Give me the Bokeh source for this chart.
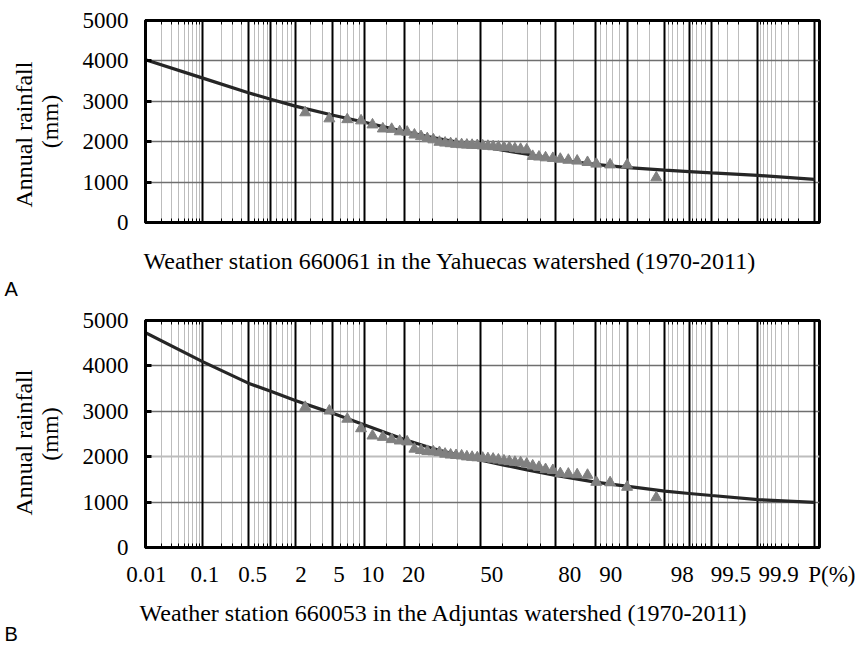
import math
from statistics import NormalDist
from bokeh.plotting import figure
from bokeh.models import Range1d, LinearAxis, FixedTicker, Grid, Title, ColumnDataSource
from bokeh.layouts import column
from bokeh.embed import file_html
from bokeh.resources import INLINE

# ---------------- data ----------------
major_p = [0.01, 0.1, 0.5, 1, 2, 5, 10, 20, 50, 80, 90, 95, 98, 99, 99.5, 99.9, 99.99]
minor_p = [0.02, 0.03, 0.04, 0.05, 0.06, 0.07, 0.08, 0.09, 0.2, 0.3, 0.4, 0.6, 0.7, 0.8, 0.9,
           1.2, 1.4, 1.6, 1.8, 3, 4, 6, 7, 8, 9, 15, 25, 30, 40, 60, 70, 75, 85,
           91, 92, 93, 94, 96, 97, 98.2, 98.4, 98.6, 98.8, 99.1, 99.2, 99.3, 99.4,
           99.6, 99.7, 99.8, 99.91, 99.92, 99.93, 99.94, 99.95, 99.96, 99.97, 99.98]
label_p = [0.01, 0.1, 0.5, 2, 5, 10, 20, 50, 80, 90, 98, 99.5, 99.9]
label_text = ["0.01", "0.1", "0.5", "2", "5", "10", "20", "50", "80", "90", "98", "99.5", "99.9"]
unit_text = "P(%)"
y_ticks = [0, 1000, 2000, 3000, 4000, 5000]

# empirical exceedance probability (%) of the 42 annual totals
obs_p = [2.6, 4.7, 7.0, 9.3, 11.6, 14.0, 16.3, 18.6, 20.9, 23.3, 25.6, 27.9, 30.2, 32.6,
         34.9, 37.2, 39.5, 41.9, 44.2, 46.5, 48.8, 51.2, 53.5, 55.8, 58.1, 60.5, 62.8, 65.1,
         67.4, 69.8, 72.1, 74.4, 76.7, 79.1, 81.4, 83.7, 86.0, 88.4, 90.2, 92.6, 94.9, 97.5]
obs_a = [2720, 2570, 2550, 2520, 2420, 2320, 2310, 2250, 2240, 2170, 2130, 2080, 2050, 1990,
         1970, 1955, 1940, 1930, 1920, 1915, 1910, 1900, 1890, 1880, 1870, 1860, 1855, 1830,
         1815, 1800, 1640, 1625, 1605, 1590, 1570, 1545, 1525, 1490, 1450, 1430, 1425, 1110]
obs_b = [3090, 3010, 2830, 2620, 2460, 2430, 2380, 2350, 2330, 2170, 2140, 2120, 2110, 2095,
         2060, 2040, 2030, 2020, 2000, 1990, 1980, 1970, 1960, 1950, 1930, 1910, 1895, 1880,
         1870, 1840, 1800, 1770, 1720, 1700, 1630, 1620, 1605, 1595, 1440, 1430, 1330, 1100]

# fitted frequency curves
curve_p = [0.01, 0.1, 0.5, 1, 2, 5, 10, 20, 30, 40, 50, 60, 70, 80, 90, 95, 98, 99, 99.5, 99.9, 99.99]
curve_a = [4030, 3580, 3210, 3050, 2880, 2660, 2480, 2250, 2100, 1990, 1890, 1790, 1690, 1560,
           1440, 1360, 1295, 1260, 1228, 1165, 1068]
curve_b = [4730, 4100, 3620, 3440, 3240, 2960, 2700, 2380, 2180, 2040, 1930, 1820, 1710, 1590,
           1440, 1345, 1240, 1190, 1145, 1055, 995]

title_a = "Weather station 660061 in the Yahuecas watershed (1970-2011)"
title_b = "Weather station 660053 in the Adjuntas watershed (1970-2011)"

# ---------------- scale helpers ----------------
ND = NormalDist()
def z(p):
    return ND.inv_cdf(p / 100.0)

SERIF = "Liberation Serif"
FRAME_L, FRAME_W, RIGHT_B = 145, 674, 36
FIG_W = FRAME_L + FRAME_W + RIGHT_B
SX = (479.5 - FRAME_L) / (-z(0.01))  # px per z unit
X0 = z(0.01)
X1 = X0 + FRAME_W / SX
LAB_C, LAB_S = 490.7, 92.97          # tick-label placement scale
LAB0 = (FRAME_L - 1 - LAB_C) / LAB_S
LAB1 = (FRAME_L + FRAME_W - LAB_C) / LAB_S

major_z = [z(v) for v in major_p]
minor_z = [z(v) for v in minor_p]


def mk_title(text, align, offset, standoff, vertical_align="bottom", size="24px", font=SERIF):
    return Title(text=text, align=align, offset=offset, standoff=standoff,
                 vertical_align=vertical_align, text_font=font, text_font_size=size,
                 text_font_style="normal", text_color="black")


def make_fig(height, top, frame_h, curve_vals, obs_vals, letter, title, title_off,
             ann_off, spacer, with_labels, light_2000, cap_standoff, letter_kw):
    p = figure(width=FIG_W, height=height, x_range=Range1d(X0, X1), y_range=Range1d(0, 5000),
               x_axis_type=None, y_axis_type=None, toolbar_location=None,
               output_backend="svg", min_border_left=FRAME_L, min_border_right=RIGHT_B,
               min_border_top=top, min_border_bottom=height - top - frame_h)
    p.background_fill_color = "white"
    p.border_fill_color = "white"
    p.outline_line_color = "black"
    p.outline_line_width = 3

    # grids
    p.add_layout(Grid(dimension=0, ticker=FixedTicker(ticks=minor_z),
                      grid_line_color="#bdbdbd", grid_line_width=1))
    if light_2000:
        p.add_layout(Grid(dimension=1, ticker=FixedTicker(ticks=[2000]),
                          grid_line_color="#bdbdbd", grid_line_width=2))
        dark_y = [1000, 3000, 4000]
    else:
        dark_y = [1000, 2000, 3000, 4000]
    p.add_layout(Grid(dimension=1, ticker=FixedTicker(ticks=dark_y),
                      grid_line_color="#6f6f6f", grid_line_width=1.5))
    p.add_layout(Grid(dimension=0, ticker=FixedTicker(ticks=major_z),
                      grid_line_color="black", grid_line_width=2))

    # y axis ("(mm)" as its label) and the "Annual rainfall" line
    yax = LinearAxis(ticker=FixedTicker(ticks=y_ticks), major_tick_in=6, major_tick_out=0,
                     minor_tick_in=0, minor_tick_out=0, major_tick_line_width=3,
                     axis_line_width=3, major_label_text_font=SERIF,
                     major_label_text_font_size="23px", major_label_standoff=17,
                     major_label_text_color="black", axis_label="(mm)",
                     axis_label_text_font=SERIF, axis_label_text_font_size="24px",
                     axis_label_text_font_style="normal", axis_label_text_color="black",
                     axis_label_standoff=17)
    p.add_layout(yax, "left")
    p.add_layout(mk_title("Annual rainfall", "left", ann_off, -6), "left")

    # x axes with inner ticks (bottom and top)
    for place in ("below", "above"):
        xax = LinearAxis(ticker=FixedTicker(ticks=major_z, minor_ticks=minor_z),
                         major_tick_in=0, major_tick_out=0, minor_tick_in=4,
                         minor_tick_out=0, minor_tick_line_color="black",
                         major_label_text_font_size="0px", major_label_standoff=0,
                         axis_line_width=3)
        p.add_layout(xax, place)

    if with_labels:
        p.extra_x_ranges = {"lab": Range1d(LAB0, LAB1)}
        label_z = [z(v) for v in label_p] + [LAB1 - 1e-9]
        texts = label_text + ["\u00a0" * 6 + unit_text]
        lab = LinearAxis(x_range_name="lab", ticker=FixedTicker(ticks=label_z),
                         major_label_overrides={k: t for k, t in zip(label_z, texts)},
                         axis_line_color=None, major_tick_line_color=None,
                         minor_tick_line_color=None, major_label_text_font=SERIF,
                         major_label_text_font_size="23px", major_label_standoff=8,
                         major_label_text_color="black")
        p.add_layout(lab, "below")

    if spacer:
        p.add_layout(Title(text="\u00a0", text_font_size="1px", standoff=spacer), "below")

    # data
    src_c = ColumnDataSource(dict(x=[z(v) for v in curve_p], y=curve_vals))
    src_o = ColumnDataSource(dict(x=[z(v) for v in obs_p], y=obs_vals))
    p.line("x", "y", source=src_c, line_color="#262626", line_width=3.2)
    p.scatter("x", "y", source=src_o, marker="triangle", size=11,
              fill_color="#808080", line_color="#808080")

    # caption and panel letter
    p.add_layout(mk_title(title, "left", title_off, cap_standoff), "below")
    p.add_layout(mk_title(letter, "left", -141, size="20px", font="Liberation Sans",
                          **letter_kw), "below")
    return p


p1 = make_fig(304, 20, 202, curve_a, obs_a, "A", title_a, -2, 15, 20, False, False, 0,
              dict(standoff=4))
p2 = make_fig(342, 16, 227, curve_b, obs_b, "B", title_b, -6, 32, 0, True, True, 16,
              dict(standoff=-23, vertical_align="middle"))

layout = column(p1, p2, spacing=0)
open("out.html", "w").write(file_html(layout, INLINE))
